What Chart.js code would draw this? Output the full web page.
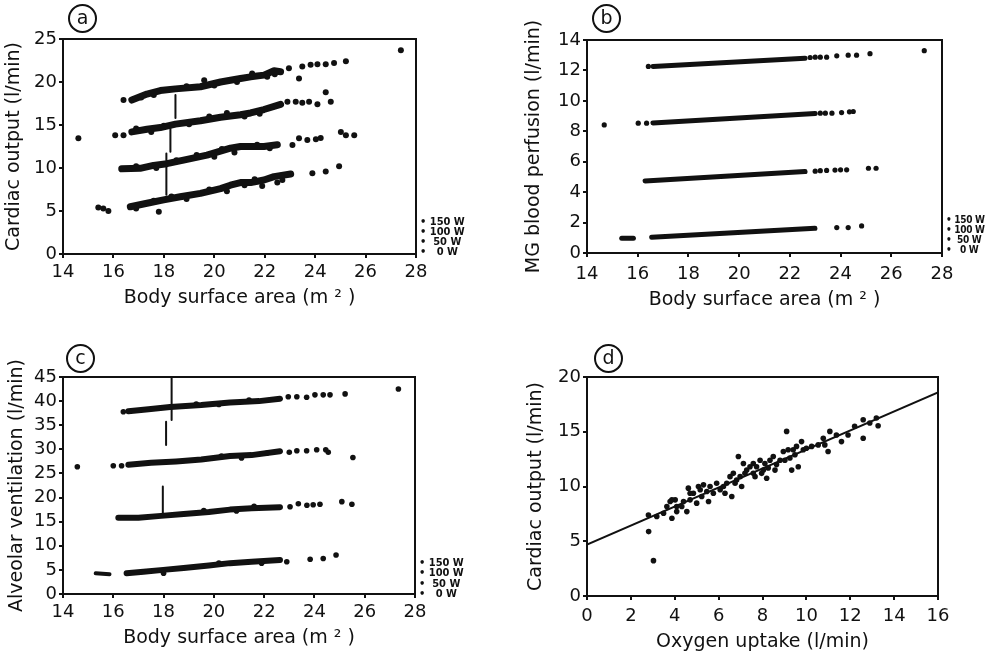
<!DOCTYPE html>
<html>
<head>
<meta charset="utf-8">
<script src="https://cdn.jsdelivr.net/npm/chart.js@4.4.0/dist/chart.umd.min.js"></script>
<style>
  body { margin: 0; background: #fff; width: 987px; height: 654px; position: relative; overflow: hidden; font-family: "DejaVu Sans", sans-serif; }
  canvas { position: absolute; }
  .tag { position: absolute; width: 25px; height: 25px; border: 2px solid #111; border-radius: 50%; font-size: 19px; line-height: 23px; text-align: center; color: #111; }
  .key { position: absolute; font: bold 11px "DejaVu Sans Condensed", sans-serif; line-height: 10px; color: #111; white-space: pre; }
  .key.small { font-size: 10px; letter-spacing: -0.3px; }
</style>
</head>
<body>
<canvas id="chartA" width="490" height="320" style="left:0;top:0"></canvas>
<canvas id="chartB" width="497" height="320" style="left:490px;top:0"></canvas>
<canvas id="chartC" width="490" height="334" style="left:0;top:320px"></canvas>
<canvas id="chartD" width="497" height="334" style="left:490px;top:320px"></canvas>

<div class="tag" style="left:68px;top:4px">a</div>
<div class="tag" style="left:592px;top:4px">b</div>
<div class="tag" style="left:66px;top:344px">c</div>
<div class="tag" style="left:594px;top:344px">d</div>

<div class="key" style="left:420px;top:217px">• 150 W</div>
<div class="key" style="left:420px;top:227px">• 100 W</div>
<div class="key" style="left:420px;top:237px">•  50 W</div>
<div class="key" style="left:420px;top:247px">•   0 W</div>

<div class="key small" style="left:946px;top:215px">• 150 W</div>
<div class="key small" style="left:946px;top:225px">• 100 W</div>
<div class="key small" style="left:946px;top:235px">•  50 W</div>
<div class="key small" style="left:946px;top:245px">•   0 W</div>

<div class="key" style="left:419px;top:558px">• 150 W</div>
<div class="key" style="left:419px;top:568px">• 100 W</div>
<div class="key" style="left:419px;top:579px">•  50 W</div>
<div class="key" style="left:419px;top:589px">•   0 W</div>

<script>
// ---- panel a: cardiac output vs body surface area, per workload ----
const a150Band = [[16.73,17.9],[17.33,18.6],[17.86,19.0],[18.46,19.2],[19.45,19.45],[20.25,20.0],[20.64,20.2],[21.04,20.4],[21.44,20.6],[21.97,20.8],[22.37,21.3],[22.63,21.2]];
const a150Dots = [[16.40,17.9],[17.1,18.2],[17.6,18.5],[18.9,19.5],[19.6,20.2],[20.0,19.6],[20.9,20.0],[21.5,21.0],[22.1,20.6],[22.4,20.9],
                  [22.96,21.6],[23.36,20.4],[23.49,21.8],[23.82,22.0],[24.09,22.06],[24.42,22.06],[24.75,22.2],[25.22,22.4],[27.4,23.7]];
const a100Band = [[16.73,14.2],[17.33,14.5],[17.86,14.7],[18.46,15.1],[19.45,15.5],[20.25,15.9],[21.04,16.2],[21.44,16.4],[21.97,16.8],[22.63,17.4]];
const a100Dots = [[14.61,13.45],[16.07,13.8],[16.4,13.8],[16.9,14.6],[17.5,14.2],[18.0,14.9],[19.0,15.1],[19.8,16.0],[20.5,16.4],[21.2,16.0],[21.8,16.3],[22.3,17.1],
                  [22.9,17.7],[23.23,17.7],[23.49,17.6],[23.76,17.7],[24.09,17.4],[24.42,18.8],[24.62,17.7]];
const a50Band = [[16.33,9.9],[17.06,9.96],[17.59,10.3],[18.12,10.5],[18.92,11.0],[19.71,11.5],[20.64,12.3],[21.04,12.5],[21.44,12.5],[21.97,12.5],[22.5,12.7]];
const a50Dots = [[16.9,10.2],[17.7,10.0],[18.5,10.9],[19.3,11.5],[20.0,11.3],[20.3,12.2],[20.8,11.8],[21.7,12.7],[22.2,12.3],
                 [23.1,12.67],[23.36,13.45],[23.69,13.26],[24.03,13.33],[24.22,13.5],[25.02,14.2],[25.22,13.8],[25.55,13.8]];
const a0Band = [[16.67,5.5],[17.33,5.9],[17.99,6.3],[18.65,6.66],[19.45,7.05],[20.25,7.6],[20.64,8.0],[21.04,8.3],[21.44,8.3],[21.97,8.6],[22.37,9.0],[23.03,9.3]];
const a0Dots = [[15.4,5.4],[15.6,5.3],[15.8,5.0],[16.9,5.3],[17.6,6.2],[17.8,4.9],[18.3,6.7],[18.9,6.4],[19.8,7.5],[20.5,7.3],[21.2,8.0],[21.6,8.7],[22.5,8.3],
                [22.7,8.6],[21.9,7.9],[23.89,9.4],[24.42,9.6],[24.95,10.2]];
const aBars = [[[18.46,18.5],[18.46,15.8]], [[18.26,14.6],[18.26,11.9]], [[18.1,11.7],[18.1,6.9]]];

// ---- panel b: MG blood perfusion ----
const b150Line = [[16.6,12.26],[22.6,12.8]];
const b150Dots = [[16.42,12.26],[22.8,12.85],[23.0,12.87],[23.2,12.87],[23.45,12.87],[23.85,12.96],[24.3,13.0],[24.63,13.0],[25.16,13.1],[27.3,13.3]];
const b100Line = [[16.6,8.55],[23.0,9.17]];
const b100Dots = [[14.68,8.42],[16.02,8.53],[16.35,8.53],[23.2,9.19],[23.4,9.19],[23.66,9.19],[24.04,9.23],[24.35,9.28],[24.5,9.3]];
const b50Line = [[16.29,4.74],[22.6,5.35]];
const b50Dots = [[23.0,5.38],[23.2,5.41],[23.45,5.43],[23.78,5.45],[24.0,5.47],[24.24,5.47],[25.1,5.57],[25.4,5.57]];
const b0Line = [[16.55,1.03],[22.99,1.62]];
const b0Dash = [[15.37,0.97],[15.83,0.97]];
const b0Dots = [[23.85,1.67],[24.3,1.67],[24.83,1.78]];

// ---- panel c: alveolar ventilation ----
const c150Band = [[16.6,37.9],[17.4,38.3],[18.26,38.8],[19.5,39.2],[20.64,39.7],[21.04,39.8],[21.8,40.0],[22.63,40.5]];
const c150Dots = [[16.4,37.8],[19.3,39.4],[20.2,39.3],[21.4,40.2],[22.96,40.9],[23.3,40.9],[23.69,40.8],[24.02,41.3],[24.35,41.3],[24.62,41.3],[25.22,41.5],[27.34,42.5]];
const c100Band = [[16.6,26.8],[17.5,27.2],[18.5,27.5],[19.5,27.9],[20.64,28.6],[21.5,28.8],[22.63,29.6]];
const c100Dots = [[14.57,26.4],[16.0,26.6],[16.33,26.6],[20.3,28.6],[21.1,28.2],[22.1,29.2],[23.0,29.4],[23.3,29.7],[23.69,29.7],[24.09,29.9],[24.45,29.9],[24.55,29.4],[25.53,28.3]];
const c50Band = [[16.2,15.8],[17.0,15.8],[17.9,16.2],[18.8,16.6],[19.8,17.0],[20.64,17.5],[21.5,17.8],[22.63,18.0]];
const c50Dots = [[19.6,17.3],[20.9,17.2],[21.6,18.2],[23.03,18.1],[23.36,18.7],[23.7,18.4],[23.95,18.5],[24.22,18.6],[25.09,19.15],[25.49,18.6]];
const c0Band = [[16.53,4.3],[17.2,4.6],[17.99,5.0],[18.8,5.4],[19.8,5.9],[20.64,6.4],[21.5,6.7],[22.63,7.05]];
const c0Dash = [[15.3,4.3],[15.85,4.1]];
const c0Dots = [[18.0,4.3],[20.2,6.4],[21.9,6.4],[22.9,6.7],[23.83,7.2],[24.35,7.35],[24.86,8.1]];
const cBars = [[[18.32,45],[18.32,36.1]], [[18.1,35.7],[18.1,30.9]], [[17.97,22.3],[17.97,16.4]]];

// ---- panel d: cardiac output vs oxygen uptake ----
const o2Uptake = [2.81,3.03,2.8,3.18,3.49,3.64,3.79,3.87,4.09,4.02,4.32,4.4,4.55,4.62,4.7,4.85,5.0,5.08,5.23,5.31,5.46,5.54,5.61,5.76,5.91,6.07,6.22,6.37,6.52,6.6,6.67,6.75,6.82,6.9,6.98,7.05,7.2,7.28,7.43,7.58,7.66,7.73,7.89,7.96,8.11,8.19,8.26,8.34,8.49,8.57,8.8,8.95,9.02,9.1,9.17,9.25,9.33,9.48,9.55,9.63,9.78,9.86,10.0,10.24,10.54,10.77,10.84,10.99,11.07,11.37,11.6,11.9,12.2,12.59,12.59,12.89,13.19,13.27,4.7,4.09,3.87,5.16,6.29,7.13,7.58,8.04,8.64,9.4];
const cardiacOut = [5.88,3.23,7.4,7.26,7.56,8.17,8.63,7.1,7.71,8.78,8.17,8.63,7.71,9.85,8.78,9.39,8.48,10.0,9.09,10.15,9.54,8.63,10.0,9.39,10.3,9.7,10.0,10.3,10.9,9.09,11.2,10.3,10.6,12.74,10.9,10.0,11.2,11.5,11.8,12.1,10.9,11.8,12.4,11.2,12.1,10.76,11.7,12.4,12.74,11.5,12.4,13.2,12.4,15.03,13.35,12.6,11.5,12.9,13.66,11.8,14.1,13.35,13.5,13.66,13.8,14.4,13.8,13.2,15.03,14.7,14.1,14.7,15.5,14.4,16.1,15.8,16.25,15.55,9.39,8.17,8.78,9.7,9.39,12.1,11.2,11.5,12.0,13.35];
const fitX = [0, 16];
const fitY = [4.7, 18.6];

const FONT = '"DejaVu Sans", sans-serif';
const INK = '#111';
const pts = arr => arr.map(([x, y]) => ({ x, y }));

function dots(arr, r) {
  return { data: pts(arr), pointRadius: r, pointBackgroundColor: INK, pointBorderWidth: 0, showLine: false };
}
function band(arr, w) {
  return { data: pts(arr), showLine: true, borderColor: INK, borderWidth: w, pointRadius: 0,
           borderCapStyle: 'round', borderJoinStyle: 'round', tension: 0 };
}

// draw the closed box round the plot area
const frame = {
  id: 'frame',
  afterDatasetsDraw(chart) {
    const { ctx, chartArea: a } = chart;
    ctx.save();
    ctx.strokeStyle = INK;
    ctx.lineWidth = 2;
    ctx.strokeRect(a.left, a.top, a.right - a.left, a.bottom - a.top);
    ctx.restore();
  }
};

function options(o) {
  const tickFont = { size: 18, family: FONT };
  const titleFont = { size: 19, family: FONT };
  return {
    responsive: false,
    animation: false,
    events: [],
    layout: { padding: o.pad },
    plugins: { legend: { display: false }, tooltip: { enabled: false } },
    scales: {
      x: {
        type: 'linear', min: o.x[0], max: o.x[1],
        ticks: { stepSize: o.x[2], padding: o.xTickPad, color: INK, font: tickFont, maxRotation: 0, autoSkip: false },
        grid: { drawOnChartArea: false, tickLength: 4, color: INK, lineWidth: 2 },
        border: { color: INK, width: 2 },
        title: { display: true, text: o.xTitle, color: INK, font: titleFont, padding: { top: 0, bottom: o.xTitlePad } },
        afterFit(s) { s.height = o.xHeight; }
      },
      y: {
        type: 'linear', min: o.y[0], max: o.y[1],
        ticks: { stepSize: o.y[2], padding: 2, color: INK, font: tickFont, autoSkip: false },
        grid: { drawOnChartArea: false, tickLength: 4, color: INK, lineWidth: 2 },
        border: { color: INK, width: 2 },
        title: { display: true, text: o.yTitle, color: INK, font: titleFont, padding: { top: o.yTitlePad, bottom: 0 } },
        afterFit(s) { s.width = o.yWidth; }
      }
    }
  };
}

const bsaTitle = 'Body surface area (m \u00B2 )';

new Chart(document.getElementById('chartA'), {
  type: 'scatter',
  data: { datasets: [
    band(a150Band, 7), dots(a150Dots, 3),
    band(a100Band, 7), dots(a100Dots, 3),
    band(a50Band, 7), dots(a50Dots, 3),
    band(a0Band, 7), dots(a0Dots, 3),
    ...aBars.map(b => band(b, 2))
  ] },
  options: options({ x: [14, 28, 2], y: [0, 25, 5], xTitle: bsaTitle, yTitle: 'Cardiac output (l/min)',
    pad: { left: 0, top: 39, right: 74, bottom: 0 }, yWidth: 63, xHeight: 66, xTickPad: 4, xTitlePad: 11, yTitlePad: 3 }),
  plugins: [frame]
});

new Chart(document.getElementById('chartB'), {
  type: 'scatter',
  data: { datasets: [
    band(b150Line, 5), dots(b150Dots, 2.6),
    band(b100Line, 5), dots(b100Dots, 2.6),
    band(b50Line, 5), dots(b50Dots, 2.6),
    band(b0Line, 5), band(b0Dash, 5), dots(b0Dots, 2.6)
  ] },
  options: options({ x: [14, 28, 2], y: [0, 14, 2], xTitle: bsaTitle, yTitle: 'MG blood perfusion (l/min)',
    pad: { left: 30, top: 40, right: 45, bottom: 0 }, yWidth: 67, xHeight: 67, xTickPad: 7, xTitlePad: 9, yTitlePad: 3 }),
  plugins: [frame]
});

new Chart(document.getElementById('chartC'), {
  type: 'scatter',
  data: { datasets: [
    band(c150Band, 6), dots(c150Dots, 2.8),
    band(c100Band, 6), dots(c100Dots, 2.8),
    band(c50Band, 6), dots(c50Dots, 2.8),
    band(c0Band, 6), band(c0Dash, 4), dots(c0Dots, 2.8),
    ...cBars.map(b => band(b, 2))
  ] },
  options: options({ x: [14, 28, 2], y: [0, 45, 5], xTitle: bsaTitle, yTitle: 'Alveolar ventilation (l/min)',
    pad: { left: 0, top: 57, right: 75, bottom: 0 }, yWidth: 63, xHeight: 60, xTickPad: 4, xTitlePad: 5, yTitlePad: 6 }),
  plugins: [frame]
});

new Chart(document.getElementById('chartD'), {
  type: 'scatter',
  data: { datasets: [
    { data: o2Uptake.map((x, i) => ({ x, y: cardiacOut[i] })), pointRadius: 2.8, pointBackgroundColor: INK, pointBorderWidth: 0 },
    { data: fitX.map((x, i) => ({ x, y: fitY[i] })), showLine: true, borderColor: INK, borderWidth: 2, pointRadius: 0 }
  ] },
  options: options({ x: [0, 16, 2], y: [0, 20, 5], xTitle: 'Oxygen uptake (l/min)', yTitle: 'Cardiac output (l/min)',
    pad: { left: 30, top: 57, right: 49, bottom: 0 }, yWidth: 67, xHeight: 58, xTickPad: 6, xTitlePad: 1, yTitlePad: 5 }),
  plugins: [frame]
});
</script>
</body>
</html>
